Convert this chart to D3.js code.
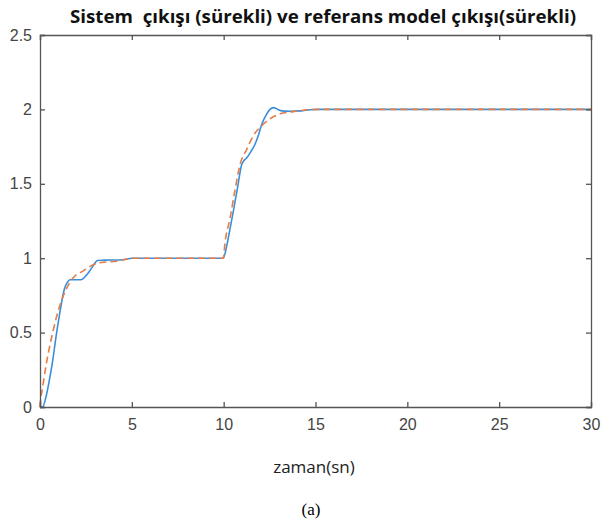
<!DOCTYPE html>
<html>
<head>
<meta charset="utf-8">
<script src="https://cdn.jsdelivr.net/npm/d3@7"></script>
<style>
  body { margin: 0; background: #fff; }
  .tick text { font-family: "Liberation Sans Narrow", "Liberation Sans", Arial, sans-serif; font-stretch: condensed; fill: #444; }
</style>
</head>
<body>
<div id="chart"></div>
<script>
// data
const xTicks = [0, 5, 10, 15, 20, 25, 30]
const yTicks = [0, 0.5, 1, 1.5, 2, 2.5]

// system output (blue, solid)
const blueT = [0, 0.14, 0.33, 0.51, 0.69, 0.87, 1.05, 1.32, 1.5, 1.63, 2.23, 2.45, 2.68, 2.9, 3.13, 3.5, 4.5, 5.0, 6, 9.98,
               10.17, 10.35, 10.52, 10.75, 10.98, 11.1, 11.25, 11.45, 11.7, 11.9, 12.07, 12.3, 12.52, 12.72, 12.95, 13.16, 13.6, 14.2, 14.7, 15.2, 16, 30]
const blueY = [0, 0, 0.07, 0.18, 0.31, 0.47, 0.61, 0.79, 0.84, 0.855, 0.855, 0.875, 0.91, 0.95, 0.985, 0.987, 0.99, 1.0, 1.0, 1.0,
               1.086, 1.2, 1.312, 1.47, 1.628, 1.655, 1.673, 1.71, 1.764, 1.83, 1.899, 1.96, 2.0, 2.012, 2.0, 1.99, 1.988, 1.99, 1.998, 2.0, 2.0, 2.0]

// reference model output (orange, dashed)
const orangeT = [0, 0.03, 0.1, 0.33, 0.69, 1.05, 1.42, 1.82, 2.36, 2.8, 3.27, 4.2, 5.1, 9.98,
                 10.07, 10.35, 10.62, 10.89, 11.25, 11.6, 12.07, 12.5, 13.07, 13.8, 15, 30]
const orangeY = [0, 0.05, 0.1, 0.28, 0.5, 0.67, 0.79, 0.87, 0.915, 0.95, 0.97, 0.98, 1.0, 1.0,
                 1.1, 1.27, 1.46, 1.63, 1.73, 1.82, 1.89, 1.935, 1.97, 1.985, 2.0, 2.0]

const blue = blueT.map((t, i) => ({t: t, y: blueY[i]}))
const orange = orangeT.map((t, i) => ({t: t, y: orangeY[i]}))

const svg = d3.select("#chart")
    .append("svg")
        .attr("width", 616)
        .attr("height", 522)

const plot = {left: 40, right: 591, top: 35, bottom: 407}

const x = d3.scaleLinear()
    .domain([0, 30])
    .range([plot.left, plot.right])

const y = d3.scaleLinear()
    .domain([0, 2.5])
    .range([plot.bottom, plot.top])

// title
svg.append("text")
    .attr("x", 323)
    .attr("y", 23)
    .attr("text-anchor", "middle")
    .attr("textLength", 506)
    .attr("lengthAdjust", "spacingAndGlyphs")
    .style("white-space", "pre")
    .style("font-family", "'Open Sans', 'Noto Sans', sans-serif")
    .style("font-weight", "700")
    .style("font-size", "17px")
    .attr("fill", "#111")
    .text("Sistem  çıkışı (sürekli) ve referans model çıkışı(sürekli)")

// lines
const line = d3.line()
    .x(d => x(d.t))
    .y(d => y(d.y))
    .curve(d3.curveMonotoneX)

svg.append("path")
    .datum(blue)
    .attr("d", line)
    .attr("fill", "none")
    .attr("stroke", "#3b8fd8")
    .attr("stroke-width", 1.6)

svg.append("path")
    .datum(orange)
    .attr("d", line)
    .attr("fill", "none")
    .attr("stroke", "#e77c48")
    .attr("stroke-width", 1.6)
    .attr("stroke-dasharray", "7,4")

// axes (ticks inward, box)
const axisColor = "#555"

const xAxis = svg.append("g")
    .attr("transform", `translate(0,${plot.bottom})`)
    .call(d3.axisBottom(x).tickValues(xTicks).tickSize(-5).tickPadding(12).tickFormat(d3.format("d")))
xAxis.selectAll("text").style("font-size", "16px")

const xTop = svg.append("g")
    .attr("transform", `translate(0,${plot.top})`)
    .call(d3.axisTop(x).tickValues(xTicks).tickSize(-5).tickFormat(""))

const yAxis = svg.append("g")
    .attr("transform", `translate(${plot.left},0)`)
    .call(d3.axisLeft(y).tickValues(yTicks).tickSize(-5).tickPadding(8).tickFormat(d => d))
yAxis.selectAll("text").style("font-size", "16px")

const yRight = svg.append("g")
    .attr("transform", `translate(${plot.right},0)`)
    .call(d3.axisRight(y).tickValues(yTicks).tickSize(-5).tickFormat(""))

svg.selectAll(".domain, .tick line")
    .attr("stroke", axisColor)
    .attr("stroke-width", 1.3)

// x label
svg.append("text")
    .attr("x", 314)
    .attr("y", 473)
    .attr("text-anchor", "middle")
    .style("font-family", "'Open Sans', 'Noto Sans', sans-serif")
    .style("font-size", "17px")
    .attr("fill", "#222")
    .text("zaman(sn)")

// caption
svg.append("text")
    .attr("x", 311)
    .attr("y", 515)
    .attr("text-anchor", "middle")
    .style("font-family", "'Liberation Serif', 'Times New Roman', serif")
    .style("font-size", "17px")
    .attr("fill", "#000")
    .text("(a)")
</script>
</body>
</html>
